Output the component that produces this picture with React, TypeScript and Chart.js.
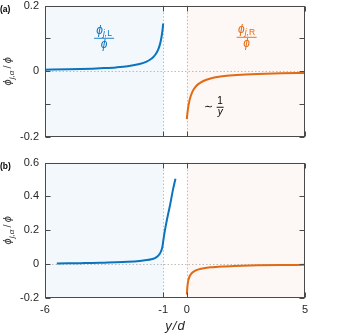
import React, { useEffect, useRef } from 'react';
import { Chart, registerables } from 'chart.js';

Chart.register(...registerables);

const FONT = "'Liberation Sans', Arial, Helvetica, sans-serif";
const BLUE = '#0a74bf';
const ORANGE = '#e26a12';
const AXIS = '#4a4a4a';
const TEXT = '#262626';
const BG_LEFT = '#f3f8fd';
const BG_RIGHT = '#fdf7f5';
const DOT = '#bcbcbc';

const X_MIN = -6;
const X_MAX = 5;
const X_TICKS = [-6, -1, 0, 5];
const LEFT_REGION = [-6, -1];
const RIGHT_REGION = [0, 5];
const DOTTED_X = [-1, 0];

// panel (a)
const A_Y_MIN = -0.2;
const A_Y_MAX = 0.2;
const A_Y_STEP = 0.1;
const A_Y_LABELED = [-0.2, 0, 0.2];
const A_LEFT_X = [-6, -5, -4, -3.5, -3, -2.5, -2, -1.7, -1.5, -1.4, -1.3, -1.2, -1.15, -1.1, -1.05, -1.02, -1];
const A_LEFT_Y = [0.005, 0.0062, 0.0081, 0.0097, 0.0119, 0.0154, 0.022, 0.0295, 0.0382, 0.0448, 0.0542, 0.0685, 0.079, 0.0932, 0.1136, 0.1308, 0.1455];
const A_RIGHT_X = [0, 0.02, 0.05, 0.1, 0.15, 0.2, 0.3, 0.4, 0.5, 0.7, 1, 1.5, 2, 2.5, 3, 4, 5];
const A_RIGHT_Y = [-0.1455, -0.1308, -0.1136, -0.0932, -0.079, -0.0685, -0.0542, -0.0448, -0.0382, -0.0295, -0.022, -0.0154, -0.0119, -0.0097, -0.0081, -0.0062, -0.005];

// panel (b)
const B_Y_MIN = -0.2;
const B_Y_MAX = 0.6;
const B_Y_STEP = 0.2;
const B_Y_LABELED = [-0.2, 0, 0.2, 0.4, 0.6];
const B_LEFT_X = [-5.5, -5, -4.5, -4, -3.5, -3, -2.5, -2, -1.7, -1.5, -1.35, -1.25, -1.15, -1.08, -1.03, -1, -0.95, -0.9, -0.8, -0.7, -0.6, -0.48];
const B_LEFT_Y = [0.004, 0.005, 0.006, 0.007, 0.009, 0.011, 0.014, 0.019, 0.024, 0.029, 0.036, 0.045, 0.06, 0.08, 0.105, 0.135, 0.18, 0.22, 0.29, 0.355, 0.43, 0.505];
const B_RIGHT_X = [0, 0.02, 0.05, 0.1, 0.17, 0.25, 0.38, 0.5, 0.72, 1, 1.5, 2, 3, 4, 5];
const B_RIGHT_Y = [-0.18, -0.14, -0.105, -0.078, -0.06, -0.048, -0.037, -0.031, -0.024, -0.019, -0.014, -0.011, -0.007, -0.005, -0.004];

// annotation anchors (data coordinates, panel a)
const LABEL_L_POS = { x: -3.5, y: 0.102 };
const LABEL_R_POS = { x: 2.53, y: 0.105 };
const LABEL_INV_POS = { x: 1.41, y: -0.108 };

const X_TITLE = 'y\u200A/\u200Ad';

type Part = { t: string; f: string; dy: number };

function drawParts(ctx: CanvasRenderingContext2D, parts: Part[], cx: number, base: number) {
  let total = 0;
  const widths = parts.map((p) => {
    ctx.font = p.f;
    const w = ctx.measureText(p.t).width;
    total += w;
    return w;
  });
  let x = cx - total / 2;
  ctx.textAlign = 'left';
  ctx.textBaseline = 'alphabetic';
  parts.forEach((p, i) => {
    ctx.font = p.f;
    ctx.fillText(p.t, x, base + p.dy);
    x += widths[i];
  });
}

function drawFrac(ctx: CanvasRenderingContext2D, cx: number, barY: number, barW: number, color: string, num: Part[], den: Part[], numOff: number, denOff: number) {
  ctx.save();
  ctx.fillStyle = color;
  ctx.strokeStyle = color;
  drawParts(ctx, num, cx, barY - numOff);
  ctx.lineWidth = 0.9;
  ctx.beginPath();
  ctx.moveTo(cx - barW / 2, barY + 0.5);
  ctx.lineTo(cx + barW / 2, barY + 0.5);
  ctx.stroke();
  drawParts(ctx, den, cx, barY + denOff);
  ctx.restore();
}

const phi = (size: number): Part => ({ t: '\u03D5', f: `italic ${size}px ${FONT}`, dy: 0 });

function decorPlugin(panel: 'a' | 'b') {
  return {
    id: 'decor' + panel,
    beforeDatasetsDraw(chart: any) {
      const { ctx, chartArea: ca, scales } = chart;
      const x = scales.x;
      const y = scales.y;
      ctx.save();
      const l0 = x.getPixelForValue(LEFT_REGION[0]);
      const l1 = x.getPixelForValue(LEFT_REGION[1]);
      const r0 = x.getPixelForValue(RIGHT_REGION[0]);
      const r1 = x.getPixelForValue(RIGHT_REGION[1]);
      ctx.fillStyle = BG_LEFT;
      ctx.fillRect(l0, ca.top, l1 - l0, ca.bottom - ca.top);
      ctx.fillStyle = BG_RIGHT;
      ctx.fillRect(r0, ca.top, r1 - r0, ca.bottom - ca.top);
      ctx.strokeStyle = DOT;
      ctx.lineWidth = 1;
      ctx.setLineDash([1.5, 2]);
      DOTTED_X.forEach((v) => {
        const px = Math.round(x.getPixelForValue(v)) + 0.5;
        ctx.beginPath();
        ctx.moveTo(px, ca.top);
        ctx.lineTo(px, ca.bottom);
        ctx.stroke();
      });
      const py = Math.round(y.getPixelForValue(0)) + 0.5;
      ctx.beginPath();
      ctx.moveTo(ca.left, py);
      ctx.lineTo(ca.right, py);
      ctx.stroke();
      ctx.restore();
    },
    afterDraw(chart: any) {
      const { ctx, chartArea: ca, scales } = chart;
      const x = scales.x;
      const y = scales.y;
      ctx.save();
      ctx.strokeStyle = AXIS;
      ctx.lineWidth = 1;
      const L = Math.round(ca.left) + 0.5;
      const R = Math.round(ca.right) - 0.5;
      const T = Math.round(ca.top) + 0.5;
      const B = Math.round(ca.bottom) - 0.5;
      ctx.strokeRect(L, T, R - L, B - T);
      const tl = 5;
      ctx.beginPath();
      x.ticks.forEach((t: any) => {
        const px = Math.round(x.getPixelForValue(t.value)) + 0.5;
        ctx.moveTo(px, B);
        ctx.lineTo(px, B - tl);
        ctx.moveTo(px, T);
        ctx.lineTo(px, T + tl);
      });
      y.ticks.forEach((t: any) => {
        const py = Math.round(y.getPixelForValue(t.value)) + 0.5;
        ctx.moveTo(L, py);
        ctx.lineTo(L + tl, py);
        ctx.moveTo(R, py);
        ctx.lineTo(R - tl, py);
      });
      ctx.stroke();

      // panel label
      ctx.fillStyle = '#000';
      ctx.font = `bold 8.5px ${FONT}`;
      ctx.textAlign = 'left';
      ctx.textBaseline = 'middle';
      ctx.fillText(panel === 'a' ? '(a)' : '(b)', 0, ca.top + 4.5);

      // y axis title
      ctx.save();
      ctx.translate(8, (ca.top + ca.bottom) / 2);
      ctx.rotate(-Math.PI / 2);
      ctx.fillStyle = '#333';
      drawParts(
        ctx,
        [
          phi(11),
          { t: 'j,\u03B1', f: `italic 8px ${FONT}`, dy: 2.5 },
          { t: '\u2009/\u2009', f: `11px ${FONT}`, dy: 0 },
          phi(11),
        ],
        0,
        3
      );
      ctx.restore();

      if (panel === 'a') {
        const lx = x.getPixelForValue(LABEL_L_POS.x);
        const ly = y.getPixelForValue(LABEL_L_POS.y);
        drawFrac(
          ctx, lx, ly, 20, BLUE,
          [phi(12), { t: 'j,', f: `italic 8.5px ${FONT}`, dy: 2.5 }, { t: 'L', f: `8.5px ${FONT}`, dy: 2.5 }],
          [phi(12)], 4, 10
        );
        const rx = x.getPixelForValue(LABEL_R_POS.x);
        const ry = y.getPixelForValue(LABEL_R_POS.y);
        drawFrac(
          ctx, rx, ry, 20, ORANGE,
          [phi(12), { t: 'j,', f: `italic 8.5px ${FONT}`, dy: 2.5 }, { t: 'R', f: `8.5px ${FONT}`, dy: 2.5 }],
          [phi(12)], 4, 10
        );
        const ix = x.getPixelForValue(LABEL_INV_POS.x);
        const iy = y.getPixelForValue(LABEL_INV_POS.y);
        ctx.fillStyle = '#000';
        ctx.font = `11px ${FONT}`;
        ctx.textAlign = 'center';
        ctx.textBaseline = 'middle';
        ctx.fillText('\u223C', ix - 12, iy);
        drawFrac(
          ctx, ix, iy, 7, '#000',
          [{ t: '1', f: `10px ${FONT}`, dy: 0 }],
          [{ t: 'y', f: `italic 10px ${FONT}`, dy: 0 }], 2.5, 8.5
        );
      }
      ctx.restore();
    },
  };
}

function pts(xs: number[], ys: number[]) {
  return xs.map((v, i) => ({ x: v, y: ys[i] }));
}

type PanelCfg = {
  panel: 'a' | 'b';
  yMin: number;
  yMax: number;
  yStep: number;
  labeled: number[];
  lx: number[];
  ly: number[];
  rx: number[];
  ry: number[];
  padTop: number;
  xHeight: number;
  showX: boolean;
};

function buildChart(canvas: HTMLCanvasElement, p: PanelCfg) {
  const lineDs = (data: any, color: string) => ({
    data,
    borderColor: color,
    backgroundColor: color,
    borderWidth: 2,
    pointRadius: 0,
    fill: false,
    cubicInterpolationMode: 'monotone',
    clip: false,
  });
  return new Chart(canvas, {
    type: 'line',
    data: { datasets: [lineDs(pts(p.lx, p.ly), BLUE), lineDs(pts(p.rx, p.ry), ORANGE)] as any },
    options: {
      animation: false,
      responsive: false,
      devicePixelRatio: 1,
      layout: { padding: { top: p.padTop, right: 34, left: 0, bottom: 0 } },
      plugins: { legend: { display: false }, tooltip: { enabled: false } },
      scales: {
        x: {
          type: 'linear',
          min: X_MIN,
          max: X_MAX,
          afterBuildTicks: (s: any) => {
            s.ticks = X_TICKS.map((v) => ({ value: v }));
          },
          afterFit: (s: any) => {
            s.height = p.xHeight;
          },
          grid: { display: false, drawTicks: false },
          border: { display: false },
          ticks: {
            display: p.showX,
            padding: 5,
            color: TEXT,
            font: { family: FONT, size: 11 },
            callback: (v: any) => String(v),
          },
          title: {
            display: p.showX,
            text: X_TITLE,
            color: TEXT,
            font: { family: FONT, size: 13, style: 'italic', lineHeight: 1 },
            padding: { top: 0, bottom: 0 },
          },
        },
        y: {
          type: 'linear',
          min: p.yMin,
          max: p.yMax,
          afterFit: (s: any) => {
            s.width = 45;
          },
          grid: { display: false, drawTicks: false },
          border: { display: false },
          ticks: {
            stepSize: p.yStep,
            padding: 6,
            color: TEXT,
            font: { family: FONT, size: 11 },
            callback: (v: any) => {
              const n = Number(Number(v).toFixed(2));
              return p.labeled.some((l) => Math.abs(l - n) < 1e-9) ? String(n) : '';
            },
          },
        },
      },
    } as any,
    plugins: [decorPlugin(p.panel)],
  });
}

export default function App() {
  const refA = useRef<HTMLCanvasElement>(null);
  const refB = useRef<HTMLCanvasElement>(null);
  useEffect(() => {
    const a = buildChart(refA.current!, {
      panel: 'a', yMin: A_Y_MIN, yMax: A_Y_MAX, yStep: A_Y_STEP, labeled: A_Y_LABELED,
      lx: A_LEFT_X, ly: A_LEFT_Y, rx: A_RIGHT_X, ry: A_RIGHT_Y,
      padTop: 7, xHeight: 13, showX: false,
    });
    const b = buildChart(refB.current!, {
      panel: 'b', yMin: B_Y_MIN, yMax: B_Y_MAX, yStep: B_Y_STEP, labeled: B_Y_LABELED,
      lx: B_LEFT_X, ly: B_LEFT_Y, rx: B_RIGHT_X, ry: B_RIGHT_Y,
      padTop: 12, xHeight: 35, showX: true,
    });
    return () => {
      a.destroy();
      b.destroy();
    };
  }, []);
  return (
    <div style={{ position: 'fixed', left: 0, top: 0, width: 339, height: 333, overflow: 'hidden', background: '#fff' }}>
      <canvas ref={refA} width={339} height={157} style={{ position: 'absolute', left: 0, top: -7, width: 339, height: 157 }} />
      <canvas ref={refB} width={339} height={183} style={{ position: 'absolute', left: 0, top: 150, width: 339, height: 183 }} />
    </div>
  );
}
